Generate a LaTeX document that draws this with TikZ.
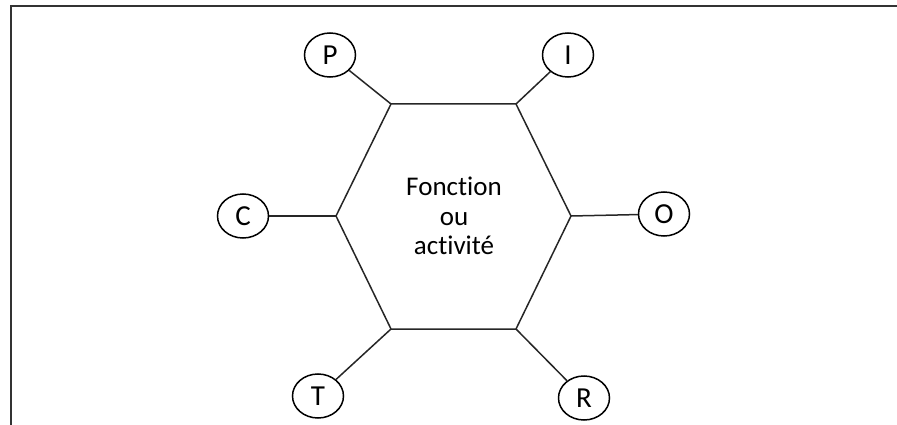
\documentclass[tikz,border=0pt]{standalone}
\usepackage{fontspec}
\setmainfont[Ligatures=NoCommon]{Carlito}
\usetikzlibrary{shapes.geometric}
\begin{document}
\begin{tikzpicture}[x=1pt,y=-1pt,
  edge/.style={line width=1.5pt,black!85},
  letter/.style={draw,line width=1.5pt,ellipse,minimum width=51pt,minimum height=44pt,inner sep=0pt,font=\fontsize{29}{30}\selectfont},
  frameline/.style={line width=2pt,black!80}]
\useasboundingbox (0,0) rectangle (897,425);
% open frame: top and left sides
\draw[frameline] (897,6) -- (11,6) -- (11,425);
% central hexagon
\coordinate (v1) at (391,104);
\coordinate (v2) at (516,104);
\coordinate (v3) at (571,216);
\coordinate (v4) at (516,329);
\coordinate (v5) at (391,329);
\coordinate (v6) at (336,216);
\draw[edge,line join=miter] (v1) -- (v2) -- (v3) -- (v4) -- (v5) -- (v6) -- cycle;
\node[align=center,font=\fontsize{27}{29.5}\selectfont] (fonc) at (454,216) {Fonction\\ou\\activité};
% surrounding letters
\node[letter] (P) at (330,55) {P};
\node[letter] (I) at (568,55) {I};
\node[letter] (C) at (243,216) {C};
\node[letter] (O) at (664,214) {O};
\node[letter] (T) at (318,396) {T};
\node[letter] (R) at (584,398) {R};
% connectors to the hexagon corners
\draw[edge] (P) -- (v1);
\draw[edge] (I) -- (v2);
\draw[edge] (C) -- (v6);
\draw[edge] (O) -- (v3);
\draw[edge] (T) -- (v5);
\draw[edge] (R) -- (v4);
\end{tikzpicture}
\end{document}
